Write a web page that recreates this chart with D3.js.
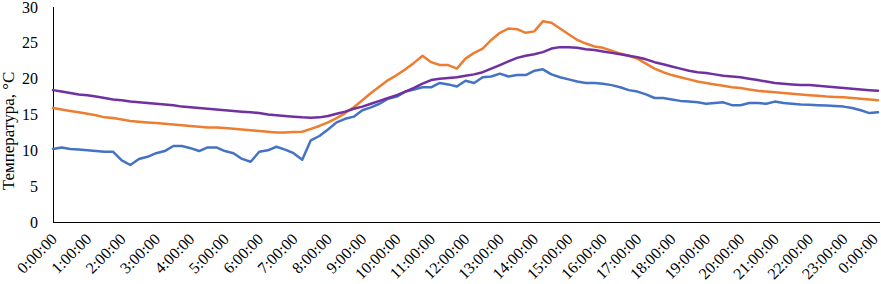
<!DOCTYPE html>
<html><head><meta charset="utf-8">
<script src="https://cdn.jsdelivr.net/npm/d3@7"></script>
<style>body{margin:0;background:#fff}svg{display:block}text{font-family:"Liberation Serif","Times New Roman",serif}</style>
</head><body><svg id="c" width="881" height="284"></svg>
<script>
// time step 15 min, hours 0..24
const hours = d3.range(0, 24.001, 0.25);
const tickLabels = ["0:00:00","1:00:00","2:00:00","3:00:00","4:00:00","5:00:00","6:00:00","7:00:00","8:00:00","9:00:00","10:00:00","11:00:00","12:00:00","13:00:00","14:00:00","15:00:00","16:00:00","17:00:00","18:00:00","19:00:00","20:00:00","21:00:00","22:00:00","23:00:00","0:00:00"];
const yTicks = [0,5,10,15,20,25,30];
const yTitle = "Температура, °С";

const blue = [10.2,10.4,10.2,10.1,10.0,9.9,9.8,9.8,8.6,7.95,8.8,9.1,
 9.6,9.9,10.6,10.6,10.3,9.9,10.4,10.4,9.9,9.6,8.8,8.4,
 9.8,10.0,10.5,10.1,9.6,8.7,11.4,12.0,12.9,13.9,14.4,14.7,
 15.6,16.0,16.5,17.2,17.5,18.2,18.5,18.8,18.8,19.4,19.2,18.9,
 19.7,19.4,20.2,20.3,20.7,20.3,20.5,20.5,21.1,21.3,20.6,20.2,
 19.9,19.6,19.4,19.4,19.3,19.1,18.8,18.4,18.2,17.8,17.3,17.3,
 17.1,16.9,16.8,16.7,16.5,16.6,16.7,16.3,16.3,16.6,16.6,16.5,
 16.8,16.6,16.5,16.4,16.35,16.3,16.25,16.2,16.1,15.9,15.6,15.2,15.3];
const orange = [15.9,15.7,15.5,15.3,15.1,14.9,14.6,14.5,14.3,14.1,14.0,13.9,
 13.8,13.7,13.6,13.5,13.4,13.3,13.2,13.2,13.1,13.0,12.9,12.8,
 12.7,12.6,12.5,12.5,12.55,12.6,13.0,13.4,13.9,14.5,15.2,16.0,
 17.0,18.0,18.9,19.8,20.5,21.3,22.2,23.2,22.3,21.9,21.9,21.4,
 22.8,23.6,24.2,25.4,26.4,27.0,26.9,26.4,26.6,28.0,27.8,27.0,
 26.2,25.4,24.9,24.5,24.3,23.9,23.5,23.2,22.8,22.1,21.4,20.9,
 20.5,20.2,19.9,19.6,19.4,19.2,19.0,18.8,18.7,18.5,18.3,18.2,
 18.1,18.0,17.9,17.8,17.7,17.6,17.5,17.45,17.4,17.3,17.2,17.1,17.0];
const purple = [18.4,18.2,18.0,17.8,17.7,17.5,17.3,17.1,17.0,16.8,16.7,16.6,
 16.5,16.4,16.3,16.1,16.0,15.9,15.8,15.7,15.6,15.5,15.4,15.3,
 15.2,15.0,14.9,14.8,14.7,14.6,14.55,14.6,14.8,15.1,15.4,15.8,
 16.1,16.5,16.9,17.3,17.7,18.2,18.7,19.3,19.8,20.0,20.1,20.2,
 20.4,20.6,20.9,21.4,21.9,22.4,22.9,23.2,23.4,23.7,24.2,24.4,
 24.4,24.3,24.1,24.0,23.8,23.6,23.4,23.2,23.0,22.7,22.3,22.0,
 21.7,21.4,21.1,20.9,20.8,20.6,20.4,20.3,20.2,20.0,19.8,19.6,
 19.4,19.3,19.2,19.1,19.1,19.0,18.9,18.8,18.7,18.6,18.5,18.4,18.3];

const series = [
  {values: blue, color: "#4472C4"},
  {values: orange, color: "#ED7D31"},
  {values: purple, color: "#7030A0"}
];

const svg = d3.select("#c");
const x = d3.scaleLinear().domain([0,24]).range([53,878]);
const y = d3.scaleLinear().domain([0,30]).range([222,7]);

svg.append("line").attr("x1",53.5).attr("x2",53.5).attr("y1",7).attr("y2",222).attr("stroke","#000").attr("stroke-width",1);
svg.append("line").attr("x1",53).attr("x2",880).attr("y1",222.5).attr("y2",222.5).attr("stroke","#000").attr("stroke-width",1);

svg.append("g").selectAll("text").data(yTicks).join("text")
  .attr("x",38).attr("y",d=>y(d)).attr("dy","0.35em")
  .attr("text-anchor","end").attr("font-size",16).attr("fill","#000").text(d=>d);

svg.append("text").attr("transform","translate(14,131) rotate(-90)")
  .attr("text-anchor","middle").attr("font-size",17).attr("fill","#000").text(yTitle);

svg.append("g").selectAll("text").data(tickLabels).join("text")
  .attr("transform",(d,i)=>`translate(${Math.min(x(i)+5,879)},240) rotate(-45)`)
  .attr("text-anchor","end").attr("font-size",16).attr("fill","#000").text(d=>d);

const line = d3.line().x((d,i)=>x(hours[i])).y(d=>y(d));
svg.append("g").selectAll("path").data(series).join("path")
  .attr("d",d=>line(d.values)).attr("fill","none")
  .attr("stroke",d=>d.color).attr("stroke-width",2.5)
  .attr("stroke-linejoin","round").attr("stroke-linecap","round");
</script></body></html>
